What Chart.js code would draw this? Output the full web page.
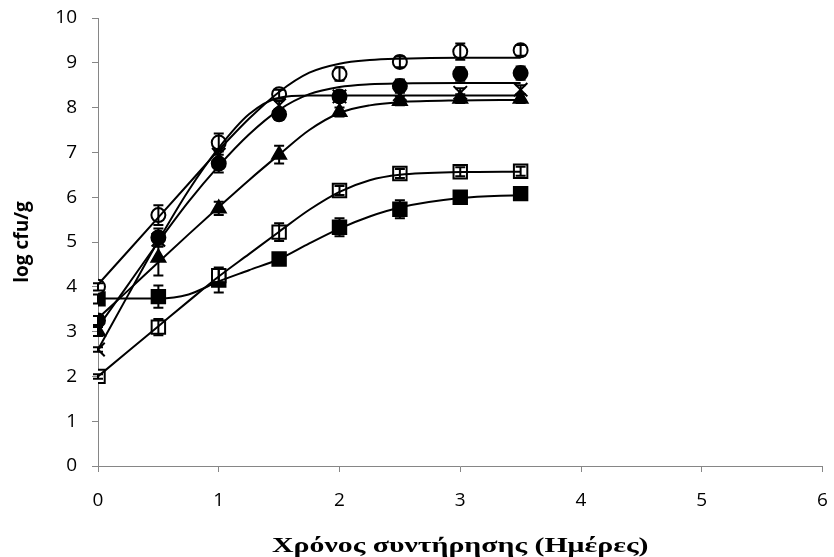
<!DOCTYPE html>
<html>
<head>
<meta charset="utf-8">
<script src="https://cdn.jsdelivr.net/npm/chart.js@4"></script>
<style>
html,body{margin:0;padding:0;background:#fff;}
#wrap{width:834px;height:557px;}
</style>
</head>
<body>
<div id="wrap"><canvas id="c" width="834" height="557"></canvas></div>
<script>
// ---- data ----
const days = [0, 0.5, 1, 1.5, 2, 2.5, 3, 3.5];

const openCircle   = [4.0, 5.6, 7.22, 8.3, 8.75, 9.02, 9.25, 9.28];
const filledCircle = [3.25, 5.1, 6.75, 7.85, 8.25, 8.48, 8.75, 8.77];
const crossSeries  = [2.6, 5.05, 6.95, 8.05, 8.25, 8.3, 8.33, 8.4];
const triangle     = [3.0, 4.65, 5.75, 6.95, 7.9, 8.15, 8.2, 8.2];
const openSquare   = [2.0, 3.1, 4.25, 5.22, 6.15, 6.53, 6.57, 6.58];
const filledSquare = [3.73, 3.78, 4.15, 4.62, 5.33, 5.73, 6.0, 6.08];

const openCircleErr   = [0.08, 0.22, 0.2, 0.1, 0.15, 0.12, 0.18, 0.12];
const filledCircleErr = [0.1, 0.2, 0.2, 0.12, 0.12, 0.15, 0.15, 0.15];
const crossErr        = [0.05, 0.15, 0.1, 0.1, 0.1, 0.1, 0.1, 0.1];
const triangleErr     = [0.1, 0.4, 0.15, 0.2, 0.1, 0.1, 0.1, 0.1];
const openSquareErr   = [0.05, 0.18, 0.15, 0.2, 0.1, 0.1, 0.1, 0.1];
const filledSquareErr = [0.1, 0.25, 0.28, 0.08, 0.2, 0.2, 0.05, 0.05];

// fitted curves
const fitDays = [0, 0.25, 0.5, 0.75, 1, 1.25, 1.5, 1.75, 2, 2.25, 2.5, 3, 3.5];
const openCircleFit   = [4.05, 4.8, 5.55, 6.3, 7.05, 7.75, 8.35, 8.78, 8.98, 9.06, 9.09, 9.11, 9.11];
const filledCircleFit = [3.1, 4.05, 5.0, 5.9, 6.7, 7.4, 7.95, 8.3, 8.46, 8.52, 8.54, 8.55, 8.55];
const crossFit        = [2.6, 3.82, 5.03, 6.15, 7.1, 7.85, 8.22, 8.27, 8.27, 8.27, 8.27, 8.27, 8.27];
const triangleFit     = [3.3, 3.92, 4.55, 5.17, 5.78, 6.38, 6.95, 7.5, 7.88, 8.05, 8.12, 8.16, 8.17];
const openSquareFit   = [2.0, 2.56, 3.12, 3.68, 4.23, 4.73, 5.23, 5.72, 6.12, 6.38, 6.5, 6.56, 6.57];
const filledSquareFit = [3.74, 3.74, 3.74, 3.83, 4.12, 4.37, 4.62, 4.97, 5.3, 5.57, 5.77, 5.98, 6.05];

const xTicks = [0, 1, 2, 3, 4, 5, 6];
const yTicks = [0, 1, 2, 3, 4, 5, 6, 7, 8, 9, 10];
const xTitle = 'Χρόνος συντήρησης (Ημέρες)';
const yTitle = 'log cfu/g';

// ---- build ----
const pts = (xs, ys) => xs.map((x, i) => ({x: x, y: ys[i]}));

function pointSet(ys, errs, style, radius, fill) {
  return {
    type: 'scatter',
    data: pts(days, ys),
    errors: errs,
    showLine: false,
    pointStyle: style,
    pointRadius: radius,
    pointHoverRadius: radius,
    pointBackgroundColor: fill,
    pointBorderColor: '#000',
    pointBorderWidth: 2,
    order: 2
  };
}
function fitSet(ys) {
  return {
    type: 'line',
    data: pts(fitDays, ys),
    showLine: true,
    pointRadius: 0,
    borderColor: '#000',
    borderWidth: 2,
    cubicInterpolationMode: 'monotone',
    fill: false,
    order: 1
  };
}

const errorBars = {
  id: 'errorBars',
  afterDatasetsDraw(chart) {
    const ctx = chart.ctx;
    const xs = chart.scales.x, ys = chart.scales.y;
    ctx.save();
    ctx.strokeStyle = '#000';
    ctx.lineWidth = 2;
    chart.data.datasets.forEach(ds => {
      if (!ds.errors) return;
      ds.data.forEach((p, i) => {
        const e = ds.errors[i];
        const px = xs.getPixelForValue(p.x);
        const top = ys.getPixelForValue(p.y + e);
        const bot = ys.getPixelForValue(p.y - e);
        ctx.beginPath();
        ctx.moveTo(px, top); ctx.lineTo(px, bot);
        ctx.moveTo(px - 5, top); ctx.lineTo(px + 5, top);
        ctx.moveTo(px - 5, bot); ctx.lineTo(px + 5, bot);
        ctx.stroke();
      });
    });
    ctx.restore();
  }
};

const bg = {
  id: 'bg',
  beforeDraw(chart) {
    const c = chart.ctx;
    c.save(); c.fillStyle = '#fff'; c.fillRect(0, 0, chart.width, chart.height); c.restore();
  }
};

function zeroPad(s) { s.paddingTop = 0; s.paddingBottom = 0; s.paddingLeft = 0; s.paddingRight = 0; }

// the reference's axis title is horizontally stretched; widen it around its centre
function stretchTitle(s, fx) {
  if (s._stretched) return;
  s._stretched = true;
  const orig = s.drawTitle;
  s.drawTitle = function () {
    const ctx = this.ctx;
    const cx = (this.left + this.right) / 2;
    ctx.save();
    ctx.translate(cx, 0); ctx.scale(fx, 1); ctx.translate(-cx, 0);
    orig.call(this);
    ctx.restore();
  };
}

const axisGray = '#868686';
const tickFont = {family: '"Open Sans", Lato, sans-serif', size: 19};

new Chart(document.getElementById('c'), {
  type: 'scatter',
  data: {
    datasets: [
      pointSet(openCircle, openCircleErr, 'circle', 7, '#fff'),
      pointSet(filledCircle, filledCircleErr, 'circle', 7, '#000'),
      pointSet(crossSeries, crossErr, 'crossRot', 9.5, '#000'),
      pointSet(triangle, triangleErr, 'triangle', 8, '#000'),
      pointSet(openSquare, openSquareErr, 'rect', 9.5, '#fff'),
      pointSet(filledSquare, filledSquareErr, 'rect', 9.5, '#000'),
      fitSet(openCircleFit),
      fitSet(filledCircleFit),
      fitSet(crossFit),
      fitSet(triangleFit),
      fitSet(openSquareFit),
      fitSet(filledSquareFit)
    ]
  },
  options: {
    responsive: false,
    animation: false,
    devicePixelRatio: 1,
    layout: {padding: {left: 0, right: 11, top: 18, bottom: 0}},
    plugins: {legend: {display: false}, tooltip: {enabled: false}},
    scales: {
      x: {
        type: 'linear', min: xTicks[0], max: xTicks[xTicks.length - 1],
        afterBuildTicks: s => { s.ticks = xTicks.map(v => ({value: v})); },
        afterFit: s => { s.height = 91; zeroPad(s); stretchTitle(s, 1.42); },
        ticks: {color: '#000', font: tickFont, padding: 17, maxRotation: 0},
        grid: {display: true, drawOnChartArea: false, drawTicks: true, tickLength: 6, color: axisGray},
        border: {display: true, color: axisGray, width: 1},
        title: {display: true, text: xTitle, color: '#000',
          font: {family: '"Liberation Serif", "Times New Roman", serif', size: 21, weight: 'bold'},
          padding: {top: 0, bottom: -2}}
      },
      y: {
        type: 'linear', min: yTicks[0], max: yTicks[yTicks.length - 1],
        afterBuildTicks: s => { s.ticks = yTicks.map(v => ({value: v})); },
        afterFit: s => { s.width = 98; zeroPad(s); },
        ticks: {color: '#000', font: tickFont, padding: 15},
        grid: {display: true, drawOnChartArea: false, drawTicks: true, tickLength: 6, color: axisGray},
        border: {display: true, color: axisGray, width: 1},
        title: {display: true, text: yTitle, color: '#000',
          font: {family: '"Open Sans", Lato, sans-serif', size: 19, weight: 'bold'},
          padding: {top: 11, bottom: 0}}
      }
    }
  },
  plugins: [bg, errorBars]
});
</script>
</body>
</html>
